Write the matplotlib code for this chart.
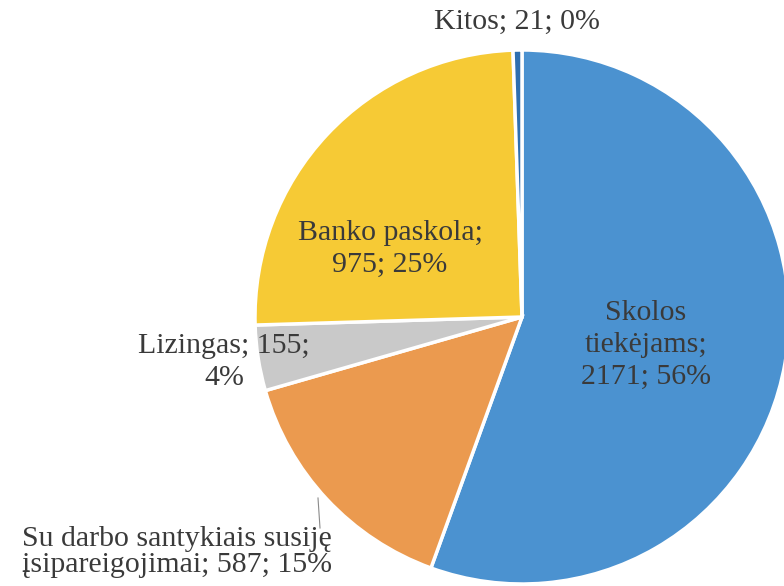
import matplotlib.pyplot as plt

plt.rcParams["font.family"] = "serif"
plt.rcParams["font.serif"] = ["Liberation Serif", "DejaVu Serif"]

values = [2171, 587, 155, 975, 21]
colors = ["#4b92d0", "#eb9a4f", "#c9c9c9", "#f6ca35", "#2f6fb0"]

labels = [
    "Skolos\ntiekėjams;\n2171; 56%",
    "Su darbo santykiais susiję\nįsipareigojimai; 587; 15%",
    "Lizingas; 155;\n4%",
    "Banko paskola;\n975; 25%",
    "Kitos; 21; 0%",
]
# label positions in pixels (x, y from top), alignment, line spacing
label_pos = [(646, 345, "center", 1.3), (22, 552, "left", 1.0), (224, 362, "center", 1.3),
             (390, 249, "center", 1.3), (517, 22, "center", 1.0)]

fig = plt.figure(figsize=(7.84, 5.86), dpi=100)
ax = fig.add_axes([0, 0, 1, 1])

ax.pie(values, colors=colors, startangle=90, counterclock=False,
       center=(522, 269), radius=267, frame=True,
       wedgeprops=dict(edgecolor="white", linewidth=2.5))
ax.set_xlim(0, 784)
ax.set_ylim(0, 586)
ax.set_aspect("equal")
ax.axis("off")

for lab, (x, y, ha, ls) in zip(labels, label_pos):
    ax.text(x, 586 - y, lab, ha=ha, va="center", fontsize=21.5, color="#3a3a3a",
            multialignment="center" if ha == "center" else "left", linespacing=ls)

# leader line for the orange slice label
ax.plot([320, 318], [586 - 528, 586 - 498], color="#8a8a8a", linewidth=0.8)

fig.savefig("out.png", dpi=100)
